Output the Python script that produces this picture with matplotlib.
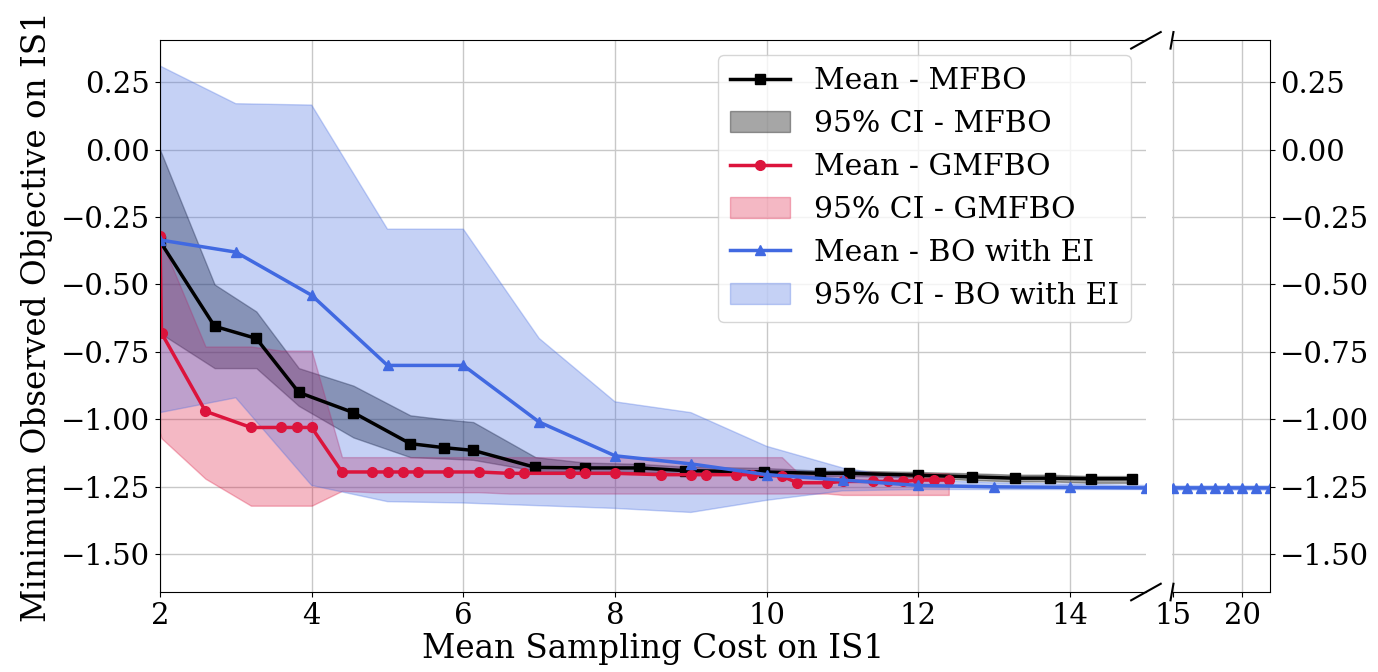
import numpy as np
import matplotlib
matplotlib.use('Agg')
import matplotlib.pyplot as plt

plt.rcParams['font.family'] = 'DejaVu Serif'
plt.rcParams['font.size'] = 21

#
# data
#
# MFBO (black)
mfbo_x = [2.0, 2.72, 3.27, 3.83, 4.55, 5.3, 5.75, 6.13, 6.95, 7.6, 8.32,
          8.92, 9.96, 10.7, 11.09, 11.99, 12.71, 13.27, 13.73, 14.28, 14.82]
mfbo_mean = [-0.34, -0.655, -0.70, -0.90, -0.975, -1.09, -1.105, -1.115, -1.178, -1.18, -1.18,
             -1.19, -1.195, -1.20, -1.20, -1.207, -1.213, -1.218, -1.218, -1.22, -1.22]
mfbo_hi = [0.0, -0.50, -0.60, -0.81, -0.875, -0.985, -1.0, -1.01, -1.14, -1.16, -1.165,
           -1.175, -1.18, -1.19, -1.19, -1.195, -1.20, -1.205, -1.205, -1.21, -1.21]
mfbo_lo = [-0.68, -0.81, -0.81, -0.95, -1.067, -1.14, -1.145, -1.15, -1.19, -1.195, -1.195,
           -1.20, -1.205, -1.21, -1.21, -1.215, -1.225, -1.23, -1.23, -1.235, -1.235]

# GMFBO (red)
gm_x = [2.0, 2.02, 2.6, 3.2, 3.6, 3.8, 4.0, 4.4, 4.8, 5.0, 5.2, 5.4, 5.8, 6.2, 6.6, 6.8,
        7.4, 7.6, 8.0, 8.6, 9.0, 9.2, 9.6, 9.8, 10.2, 10.4, 10.8, 11.0, 11.4, 11.6, 11.8,
        12.0, 12.2, 12.4]
gm_mean = [-0.32, -0.68, -0.97, -1.03, -1.03, -1.03, -1.03, -1.195, -1.195, -1.195, -1.195,
           -1.195, -1.195, -1.195, -1.20, -1.20, -1.20, -1.20, -1.20, -1.205, -1.205, -1.205,
           -1.205, -1.205, -1.21, -1.235, -1.235, -1.23, -1.23, -1.23, -1.23, -1.225, -1.225, -1.225]
gm_hi = [-0.32, -0.34, -0.73, -0.73, -0.745, -0.745, -0.745, -1.14, -1.14, -1.14, -1.14,
         -1.14, -1.14, -1.14, -1.14, -1.14, -1.14, -1.14, -1.14, -1.14, -1.14, -1.14,
         -1.14, -1.14, -1.14, -1.195, -1.195, -1.195, -1.195, -1.2, -1.2, -1.2, -1.2, -1.2]
gm_lo = [-1.05, -1.07, -1.22, -1.32, -1.32, -1.32, -1.32, -1.265, -1.27, -1.27, -1.27,
         -1.27, -1.27, -1.27, -1.275, -1.275, -1.275, -1.275, -1.275, -1.275, -1.275, -1.275,
         -1.275, -1.275, -1.275, -1.275, -1.275, -1.28, -1.28, -1.28, -1.28, -1.28, -1.28, -1.28]

# BO with EI (blue)
bo_x = [2, 3, 4, 5, 6, 7, 8, 9, 10, 11, 12, 13, 14, 15, 16, 17, 18, 19, 20, 21, 22]
bo_mean = [-0.335, -0.38, -0.54, -0.80, -0.80, -1.01, -1.135, -1.165, -1.205, -1.225, -1.245,
           -1.25, -1.252, -1.254, -1.254, -1.254, -1.254, -1.254, -1.254, -1.254, -1.254]
bo_hi = [0.31, 0.17, 0.165, -0.295, -0.295, -0.70, -0.935, -0.975, -1.10, -1.18, -1.225,
         -1.235, -1.24, -1.245, -1.245, -1.245, -1.245, -1.245, -1.245, -1.245, -1.245]
bo_lo = [-0.975, -0.92, -1.245, -1.305, -1.31, -1.32, -1.33, -1.345, -1.30, -1.265, -1.26,
         -1.26, -1.26, -1.26, -1.26, -1.26, -1.26, -1.26, -1.26, -1.26, -1.26]

left_ticks = [2, 4, 6, 8, 10, 12, 14]
right_ticks = [15, 20]
y_ticks = [0.25, 0.0, -0.25, -0.5, -0.75, -1.0, -1.25, -1.5]

#
# figure with a broken x axis
#
fig = plt.figure(figsize=(13.78, 6.72), dpi=100)
ax = fig.add_axes([0.1161, 0.119, 0.7155, 0.821])
ax2 = fig.add_axes([0.8505, 0.119, 0.0711, 0.821], sharey=ax)

# left part: all three methods
ax.fill_between(mfbo_x, mfbo_lo, mfbo_hi, color='k', alpha=0.35, label='95% CI - MFBO')
ax.fill_between(gm_x, gm_lo, gm_hi, color='crimson', alpha=0.3, label='95% CI - GMFBO')
ax.fill_between(bo_x, bo_lo, bo_hi, color='royalblue', alpha=0.3, label='95% CI - BO with EI')
ax.plot(mfbo_x, mfbo_mean, color='k', lw=2.5, marker='s', ms=7, label='Mean - MFBO')
ax.plot(gm_x, gm_mean, color='crimson', lw=2.5, marker='o', ms=7, label='Mean - GMFBO')
ax.plot(bo_x, bo_mean, color='royalblue', lw=2.5, marker='^', ms=7, label='Mean - BO with EI')

# right part: only BO runs this long
ax2.fill_between(bo_x, bo_lo, bo_hi, color='royalblue', alpha=0.3)
ax2.plot(bo_x, bo_mean, color='royalblue', lw=2.5, marker='^', ms=7)

for a in (ax, ax2):
    a.grid(True, color='#c8c8c8', lw=1)
    a.set_axisbelow(True)

ax.set_xlim(2, 15)
ax2.set_xlim(14.93, 22)
ax.set_ylim(-1.64, 0.405)
ax.set_xticks(left_ticks)
ax2.set_xticks(right_ticks)
ax.set_yticks(y_ticks)

ax.spines['right'].set_visible(False)
ax2.spines['left'].set_visible(False)
ax.yaxis.tick_left()
ax2.yaxis.tick_right()
ax2.tick_params(labelleft=False)

# diagonal break marks
d = .015
kw = dict(transform=ax.transAxes, color='k', clip_on=False, lw=1.5)
ax.plot((1 - d, 1 + d), (-d, +d), **kw)
ax.plot((1 - d, 1 + d), (1 - d, 1 + d), **kw)
kw.update(transform=ax2.transAxes)
ax2.plot((-d, +d), (-d, +d), **kw)
ax2.plot((-d, +d), (1 - d, 1 + d), **kw)

ax.set_xlabel('Mean Sampling Cost on IS1', fontsize=23.5, labelpad=2)
ax.set_ylabel('Minimum Observed Objective on IS1', fontsize=23.5, labelpad=6)

handles, labels = ax.get_legend_handles_labels()
order = [3, 0, 4, 1, 5, 2]
ax.legend([handles[i] for i in order], [labels[i] for i in order],
          loc='upper right', fontsize=21.5)

plt.savefig('out.png', dpi=100)
